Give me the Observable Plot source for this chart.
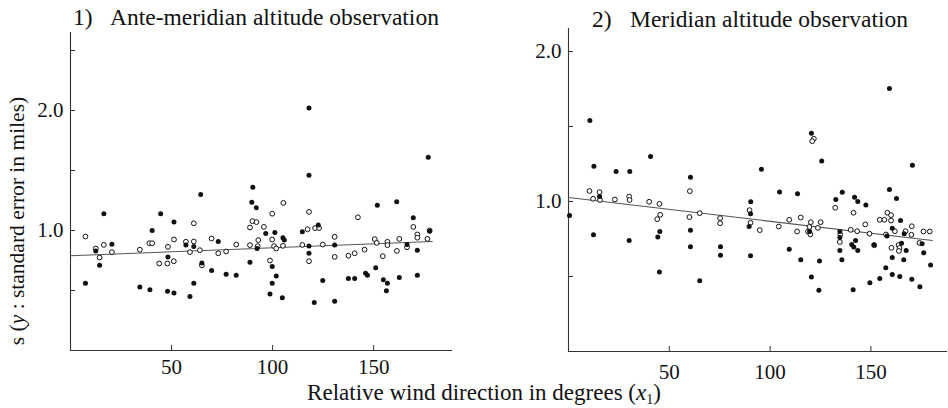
<!DOCTYPE html>
<html><head><meta charset="utf-8">
<script src="https://cdn.jsdelivr.net/npm/d3@7"></script>
<script src="https://cdn.jsdelivr.net/npm/@observablehq/plot@0.6"></script>
<style>
body{margin:0;background:#fff;}
#wrap{position:relative;width:948px;height:408px;font-family:"Liberation Serif","Times New Roman",serif;color:#111;overflow:hidden;}
.t{position:absolute;white-space:nowrap;line-height:1;}
.title{font-size:23.5px;}
.svgbox{position:absolute;top:0;}
svg text{font-family:"Liberation Serif","Times New Roman",serif;}
</style></head><body><div id="wrap"></div>
<script>
// ---- Data ----
const titles = ["1)", "Ante-meridian altitude observation", "2)", "Meridian altitude observation"];
const xTicks = [50, 100, 150];
const y1Ticks = [0.5, 1.0, 1.5, 2.0, 2.5];
const y2Ticks = [0.5, 1.0, 1.5, 2.0];
const yLabeled = [1.0, 2.0];

const p1Filled = [[7.4,0.56],[12.5,0.83],[14.4,0.71],[16.5,1.14],[20.5,0.886],[34.3,0.53],[39.3,0.506],[40.4,1.0],[44.6,1.14],[48.2,0.78],[48,0.494],[51.2,1.07],[51.2,0.48],[57.1,0.88],[59.1,0.45],[61,0.867],[61,0.56],[64.4,1.30],[65,0.73],[69.8,0.667],[73.1,0.908],[77,0.636],[82,0.628],[88.8,0.736],[89.7,1.236],[90.2,1.36],[91.9,1.19],[96.6,0.975],[92.3,0.85],[101.1,0.983],[99.8,0.70],[101.8,0.62],[99.8,0.56],[98.7,0.47],[105.1,0.94],[105.8,0.92],[104.8,0.44],[114.7,0.99],[122.6,1.045],[118,0.87],[118,0.81],[120.6,0.40],[118,2.02],[118,1.46],[124.8,0.583],[130.7,0.88],[130.7,0.41],[137.5,0.60],[140.6,0.60],[146,0.644],[146.9,0.628],[151,0.69],[151.8,1.21],[154.8,0.59],[156.8,0.56],[156.3,0.497],[161.4,1.24],[162.7,0.608],[166.5,0.883],[169.6,1.106],[171.6,0.836],[171.6,0.628],[177,1.61],[177.7,0.994]];
const p1Open = [[7.4,0.95],[12.5,0.85],[14.4,0.775],[16.5,0.88],[20.5,0.82],[34.3,0.84],[39,0.894],[40.4,0.894],[43.9,0.725],[47.9,0.725],[51.1,0.744],[48.2,0.864],[51.2,0.925],[57.1,0.906],[59.1,0.82],[61,1.06],[61,0.908],[64,0.836],[65,0.71],[69.8,0.933],[73.1,0.81],[77,0.825],[82,0.883],[88.8,0.878],[92.6,0.869],[88.8,1.025],[90,1.078],[92,1.07],[95.7,1.03],[92.9,0.92],[98.7,0.75],[99.8,1.14],[99.8,0.925],[100.7,0.87],[101.8,0.85],[105.1,0.872],[105.3,1.23],[114.7,0.88],[118,1.155],[117.3,1.01],[121,1.02],[123,1.02],[118,0.744],[124.8,0.883],[130.7,0.947],[130.7,0.78],[137.5,0.79],[140.6,0.81],[142.2,1.11],[145.5,0.84],[150.5,0.928],[151.5,0.897],[154.5,0.786],[156.8,0.906],[156.8,0.878],[161.5,0.83],[162.7,0.93],[166.5,0.86],[169.6,1.03],[171.6,0.967],[171.6,0.94],[176.6,0.93],[177.7,1.0]];
const p1Fit = [[0,0.79],[179,0.908]];

const p2Filled = [[0.5,0.907],[10.6,1.54],[12.6,1.235],[15.4,1.033],[12.4,0.778],[23.6,1.2],[30.4,1.2],[30.1,0.74],[40.7,1.3],[45.3,0.80],[44.3,0.764],[45.1,0.53],[60.5,1.162],[60.5,0.809],[60.5,0.698],[65.1,0.471],[75.4,0.698],[75.4,0.642],[90.4,0.998],[90.3,0.918],[89.6,0.833],[90.3,0.638],[95.7,1.215],[104.7,1.064],[109.5,0.682],[113.6,1.051],[115.2,0.611],[120.5,1.455],[125.6,1.269],[119.6,0.80],[120.5,0.496],[124.5,0.604],[124.2,0.409],[135.8,1.062],[132.6,1.013],[134.6,0.80],[134.6,0.76],[134.6,0.673],[135.6,0.611],[141.2,0.411],[141.9,1.029],[143.5,1.0],[142.4,0.74],[140.5,0.713],[141.5,0.696],[143.5,0.673],[147.5,0.976],[151.5,0.711],[149.5,0.458],[154.4,0.487],[159.2,1.08],[159.2,1.753],[162.7,1.02],[164.7,0.873],[160.6,0.822],[158,0.77],[160.6,0.627],[157.4,0.558],[160.6,0.513],[164.3,0.50],[165.2,0.722],[167.5,0.673],[166.3,0.611],[166.5,0.785],[170.6,1.242],[170.3,0.482],[175.4,0.718],[176.2,0.658],[179.6,0.576],[174.3,0.431]];
const p2Open = [[10.4,1.07],[12.2,1.018],[15.4,1.062],[15.6,1.01],[23,1.013],[30.1,1.033],[30.3,1.01],[40,0.998],[45.1,0.984],[45.5,0.911],[44,0.882],[60.2,1.069],[60,0.896],[65.1,0.922],[75.2,0.889],[75.2,0.855],[89.8,0.942],[90.3,0.858],[94.9,0.809],[104.3,0.833],[109.5,0.878],[113.4,0.80],[115.2,0.893],[121.7,1.418],[120.9,1.402],[120.2,0.862],[119.5,0.83],[120,0.78],[118.8,0.80],[123.7,0.824],[125.1,0.862],[132.3,0.958],[140,0.811],[134.8,0.78],[134.6,0.73],[141.4,0.925],[143.2,0.802],[147.2,0.847],[149.3,0.785],[151.7,0.708],[154.4,0.878],[156.7,0.878],[158.2,0.925],[160,0.909],[160,0.873],[161.9,0.802],[157.5,0.78],[160.2,0.691],[163.7,0.71],[164.2,0.69],[163.9,0.67],[167.2,0.802],[170.3,0.835],[170.1,0.778],[174.1,0.724],[176.1,0.80],[179.2,0.80]];
const p2Fit = [[0,1.027],[180.5,0.74]];

// ---- Drawing ----
const FONT = '"Liberation Serif","Times New Roman",serif';
function panel(o) {
  return Plot.plot({
    width: 474, height: 380,
    marginLeft: o.ml, marginRight: o.mr, marginTop: o.mt, marginBottom: o.mb,
    x: {domain: o.xDomain},
    y: {domain: o.yDomain},
    style: {fontFamily: FONT, fontSize: "21px", color: "#111", background: "transparent", overflow: "visible"},
    marks: [
      Plot.ruleX([0], {stroke: "#333", strokeWidth: 1.1}),
      Plot.ruleY([0], {stroke: "#333", strokeWidth: 1.1}),
      Plot.axisY(o.yTicks, {tickSize: -5, tickPadding: 12, label: null, stroke: "#333", fill: "#111", fontSize: 21, fontFamily: FONT,
        tickFormat: d => yLabeled.includes(d) ? d.toFixed(1) : ""}),
      Plot.axisX(xTicks, {tickSize: -5, tickPadding: o.xPad, label: null, stroke: "#333", fill: "#111", fontSize: 21, fontFamily: FONT}),
      Plot.line(o.fit, {x: d => d[0], y: d => d[1], stroke: "#555", strokeWidth: 1.1}),
      Plot.dot(o.open, {x: d => d[0], y: d => d[1], r: 2.4, stroke: "#111", strokeWidth: 1, fill: "white"}),
      Plot.dot(o.filled, {x: d => d[0], y: d => d[1], r: 2.5, fill: "#111", stroke: "none"})
    ]
  });
}
const wrap = document.getElementById("wrap");
function box(el, left) { const d = document.createElement("div"); d.className = "svgbox"; d.style.left = left + "px"; d.appendChild(el); wrap.appendChild(d); }
box(panel({ml: 70, mr: 22, mt: 32, mb: 30, xDomain: [0, 189], yDomain: [0, 2.65], yTicks: y1Ticks, fit: p1Fit, open: p1Open, filled: p1Filled, xPad: 14}), 0);
box(panel({ml: 94, mr: 1, mt: 28, mb: 29, xDomain: [0, 188], yDomain: [0, 2.153], yTicks: y2Ticks, fit: p2Fit, open: p2Open, filled: p2Filled, xPad: 18}), 474);

function text(html, left, top, cls, extra) {
  const d = document.createElement("div"); d.className = "t " + (cls || ""); d.innerHTML = html;
  d.style.left = left + "px"; d.style.top = top + "px"; if (extra) Object.assign(d.style, extra); wrap.appendChild(d); return d;
}
text(titles[0], 73, 6, "title");
text(titles[1], 110, 6, "title");
text(titles[2], 592, 8, "title");
text(titles[3], 630, 8, "title");
text('Relative wind direction in degrees (<i>x</i><sub style="font-size:14px;vertical-align:-4px">1</sub>)', 484, 381, "", {fontSize: "23px", transform: "translateX(-50%)"});
text('s (<i>y</i> : standard error in miles)', 18, 221, "", {fontSize: "21.5px", transform: "translate(-50%,-50%) rotate(-90deg)"});
</script></body></html>
